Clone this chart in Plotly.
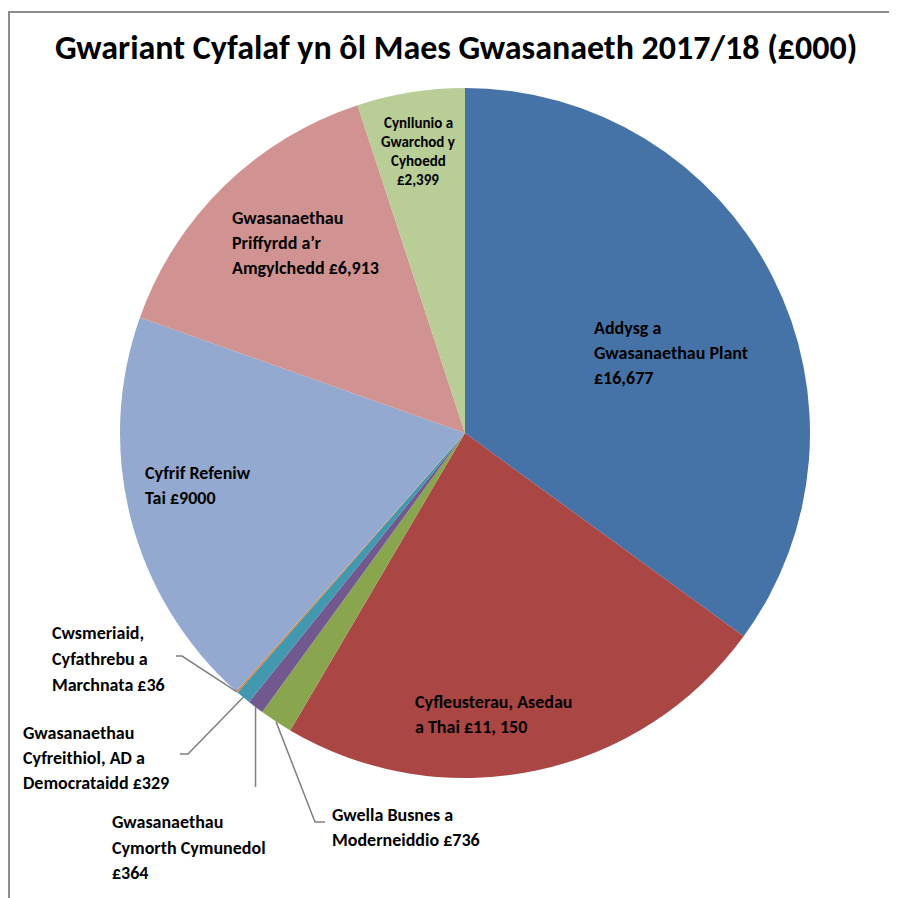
import math
import plotly.graph_objects as go

# ---- data ----
categories = [
    "Addysg a Gwasanaethau Plant",
    "Cyfleusterau, Asedau a Thai",
    "Gwella Busnes a Moderneiddio",
    "Gwasanaethau Cymorth Cymunedol",
    "Gwasanaethau Cyfreithiol, AD a Democrataidd",
    "Cwsmeriaid, Cyfathrebu a Marchnata",
    "Cyfrif Refeniw Tai",
    "Gwasanaethau Priffyrdd a'r Amgylchedd",
    "Cynllunio a Gwarchod y Cyhoedd",
]
values = [16677, 11150, 736, 364, 329, 36, 9000, 6913, 2399]
label_lines = [
    ["Addysg a", "Gwasanaethau Plant", "£16,677"],
    ["Cyfleusterau, Asedau", "a Thai £11, 150"],
    ["Gwella Busnes a", "Moderneiddio £736"],
    ["Gwasanaethau", "Cymorth Cymunedol", "£364"],
    ["Gwasanaethau", "Cyfreithiol, AD a", "Democrataidd £329"],
    ["Cwsmeriaid,", "Cyfathrebu a", "Marchnata £36"],
    ["Cyfrif Refeniw", "Tai £9000"],
    ["Gwasanaethau", "Priffyrdd a’r", "Amgylchedd £6,913"],
    ["Cynllunio a", "Gwarchod y", "Cyhoedd", "£2,399"],
]
title_text = "Gwariant Cyfalaf yn ôl Maes Gwasanaeth 2017/18 (£000)"

# ---- style ----
colors = ["#4572A7", "#AA4643", "#89A54E", "#71588F", "#4198AF",
          "#DB843D", "#93A9CF", "#D19392", "#B9CD96"]
W, H = 897, 898
OFF = 8  # page body margin
CX, CY, R = 465, 433, 345
FONT = "Carlito, Lato, sans-serif"


def px(x):
    return (x - OFF) / W


def py(y):
    return 1 - (y - OFF) / H


fig = go.Figure(go.Pie(
    labels=categories, values=values, sort=False, direction="clockwise",
    rotation=0, marker=dict(colors=colors, line=dict(width=0)),
    textinfo="none", hoverinfo="label+value", showlegend=False,
    domain=dict(x=[px(CX - R), px(CX + R)], y=[py(CY + R), py(CY - R)]),
))

# slice mid-point on the rim, from data
total = sum(values)
edge = []
cum = 0
for v in values:
    mid = (cum + v / 2) / total * 2 * math.pi
    edge.append((CX + R * math.sin(mid), CY - R * math.cos(mid)))
    cum += v

annotations = [dict(x=px(456), y=py(47), xref="paper", yref="paper",
                    text="<b>" + title_text + "</b>", showarrow=False,
                    xanchor="center", yanchor="middle",
                    font=dict(family=FONT, size=34, color="#000"))]

# label placement: (x, first line centre y, line step, xanchor, size)
place = [
    (592, 328, 25, "left", 18),
    (413, 702, 25, "left", 18),
    (330, 815, 25, "left", 18),
    (110, 822, 25.5, "left", 18),
    (21, 733, 25, "left", 18),
    (50, 633, 26, "left", 18),
    (143, 473, 25, "left", 18),
    (230, 218, 25, "left", 18),
    (418, 123, 19, "center", 15),
]
for lines, (x, y0, step, xa, s) in zip(label_lines, place):
    for i, ln in enumerate(lines):
        annotations.append(dict(
            x=px(x), y=py(y0 + i * step), xref="paper", yref="paper",
            text="<b>" + ln + "</b>", showarrow=False, xanchor=xa,
            yanchor="middle", align=xa,
            font=dict(family=FONT, size=s, color="#000")))

shapes = []
# border
shapes.append(dict(type="rect", xref="paper", yref="paper",
                   x0=px(9), y0=py(12), x1=px(W + 20), y1=py(H + 20),
                   line=dict(color="#8c8c8c", width=2)))


def leader(points):
    path = "M " + " L ".join(f"{px(a)},{py(b)}" for a, b in points)
    shapes.append(dict(type="path", xref="paper", yref="paper", path=path,
                       line=dict(color="#7f7f7f", width=1.5)))


leader([(176, 656), (182, 656), edge[5]])
leader([(180, 754), (188, 754), edge[4]])
leader([(edge[3][0], 787), edge[3]])
leader([(325, 822), (315, 822), edge[2]])

fig.update_layout(width=W, height=H, margin=dict(l=0, r=0, t=0, b=0),
                  paper_bgcolor="white", plot_bgcolor="white",
                  annotations=annotations, shapes=shapes)
fig.write_html("out.html")
